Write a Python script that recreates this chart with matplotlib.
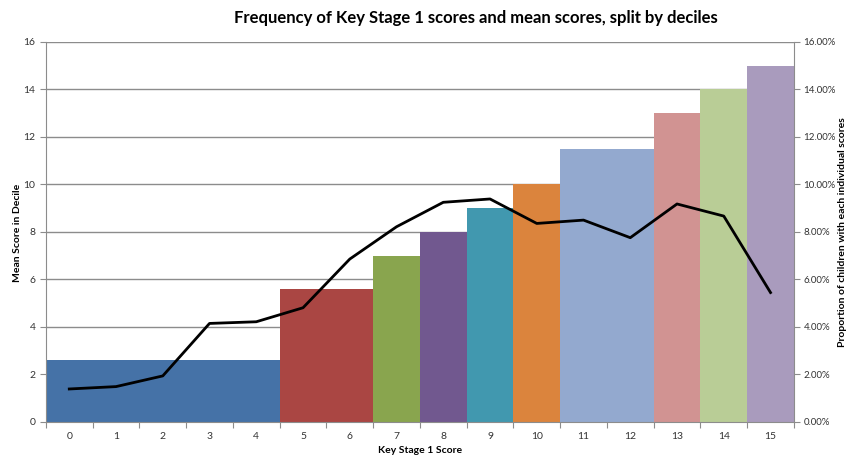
import matplotlib.pyplot as plt
from matplotlib.ticker import FixedLocator, PercentFormatter

plt.rcParams['font.family'] = ['Lato', 'DejaVu Sans']

# Data
scores = list(range(16))
# bars: first score, last score, mean score in decile
bar_start = [0, 5, 7, 8, 9, 10, 11, 13, 14, 15]
bar_end = [4, 6, 7, 8, 9, 10, 12, 13, 14, 15]
bar_mean = [2.6, 5.6, 7.0, 8.0, 9.0, 10.0, 11.5, 13.0, 14.0, 15.0]
bar_colors = ["#4572A7", "#AA4643", "#89A54E", "#71588F", "#4198AF",
              "#DB843D", "#93A9CF", "#D19392", "#B9CD96", "#A99BBD"]
# proportion of children (%) with each score
proportion = [1.39, 1.49, 1.94, 4.15, 4.22, 4.81, 6.86, 8.22,
              9.25, 9.39, 8.36, 8.5, 7.76, 9.18, 8.67, 5.45]

fig = plt.figure(figsize=(8.5, 4.65), dpi=100)
ax = fig.add_axes([0.054, 0.0925, 0.880, 0.8172])

lefts = [s - 0.5 for s in bar_start]
widths = [e - s + 1 for s, e in zip(bar_start, bar_end)]
ax.bar(lefts, bar_mean, width=widths, align="edge", color=bar_colors,
       linewidth=0, zorder=2)

ax.set_xlim(-0.5, 15.5)
ax.set_ylim(0, 16)
ax.set_yticks(range(0, 17, 2))
ax.grid(axis="y", color="#8c8c8c", linewidth=1.0, zorder=0)
ax.set_axisbelow(True)

ax.xaxis.set_major_locator(FixedLocator([x - 0.5 for x in range(17)]))
ax.set_xticklabels([])
ax.xaxis.set_minor_locator(FixedLocator(scores))
ax.set_xticklabels([str(s) for s in scores], minor=True)
ax.tick_params(axis="x", which="major", length=4, direction="out", color="#8c8c8c")
ax.tick_params(axis="x", which="minor", length=0, labelsize=7.5, pad=7, labelcolor="#333333")
ax.tick_params(axis="y", length=4, direction="out", color="#8c8c8c", labelsize=7.5,
               labelcolor="#333333")

for side in ["top", "right"]:
    ax.spines[side].set_visible(False)
for side in ["left", "bottom"]:
    ax.spines[side].set_color("#8c8c8c")

ax.set_xlabel("Key Stage 1 Score", fontsize=7.5, fontweight="bold", labelpad=4)
fig.text(0.021, 0.5, "Mean Score in Decile", fontsize=7.5, fontweight="bold",
         rotation=90, ha="center", va="center")

ax2 = ax.twinx()
ax2.plot(scores, proportion, color="black", linewidth=2, zorder=3)
ax2.set_ylim(0, 16)
ax2.set_yticks(range(0, 17, 2))
ax2.yaxis.set_major_formatter(PercentFormatter(decimals=2))
ax2.tick_params(axis="y", length=4, direction="out", color="#8c8c8c", labelsize=7,
                labelcolor="#333333", pad=3)
for side in ["top", "left", "bottom"]:
    ax2.spines[side].set_visible(False)
ax2.spines["right"].set_color("#8c8c8c")
fig.text(0.991, 0.5, "Proportion of children with each individual scores", fontsize=7.5,
         fontweight="bold", rotation=90, ha="center", va="center")

fig.text(0.56, 0.962, "Frequency of Key Stage 1 scores and mean scores, split by deciles",
         fontsize=12, fontweight="bold", ha="center", va="center")

fig.savefig("out.png", dpi=100)
